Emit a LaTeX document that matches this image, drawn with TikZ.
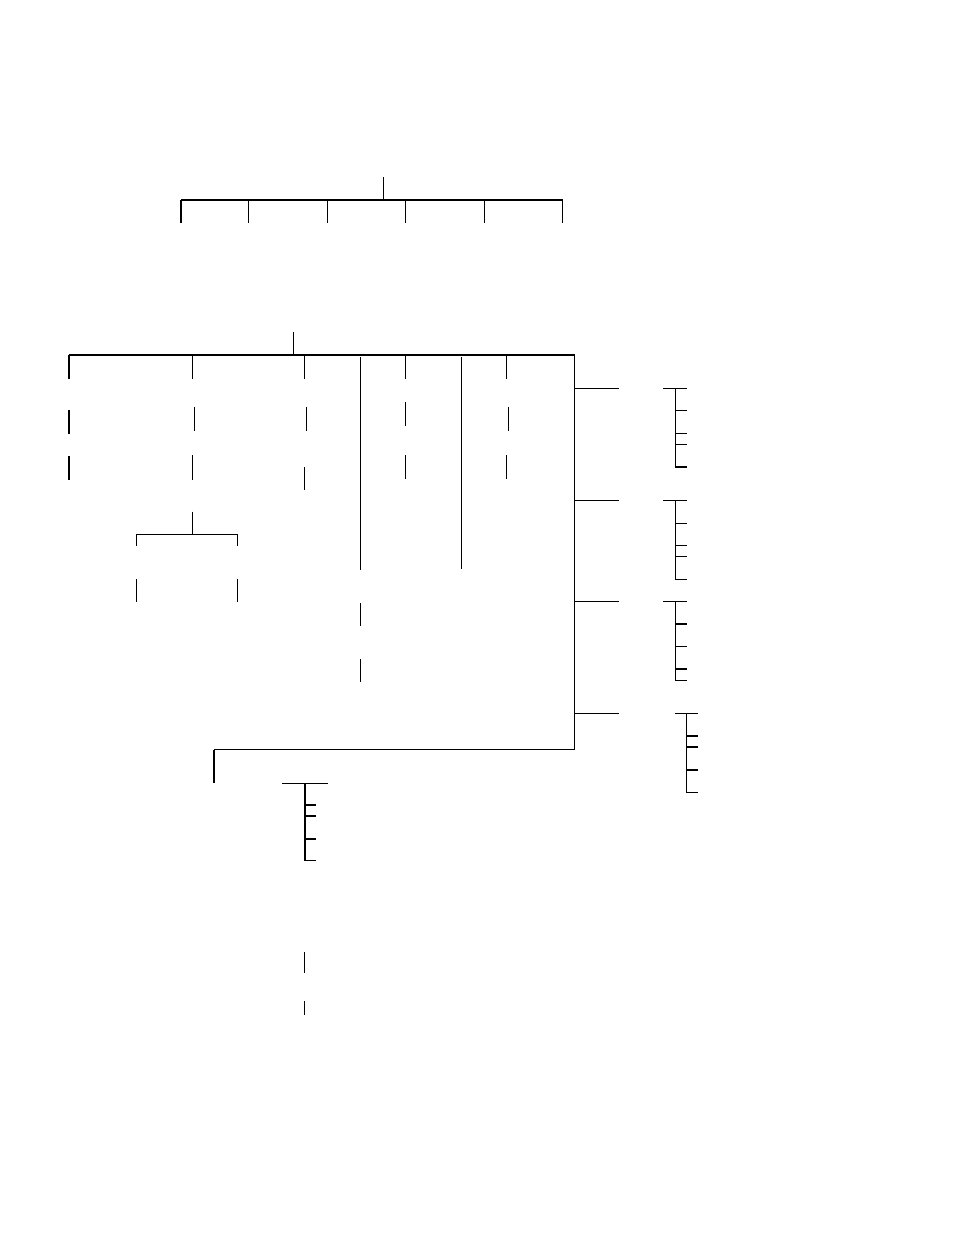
\documentclass[tikz,border=0pt]{standalone}
\begin{document}
\begin{tikzpicture}[x=1pt,y=-1pt,
  ln/.style={line width=1.05pt,line cap=butt},
  thk/.style={line width=2pt,line cap=butt}]
\useasboundingbox (0,0) rectangle (954,1235);
% top tree
\draw[ln] (383.3,177) -- (383.3,200);
\draw[ln] (181,200) -- (562.7,200);
\foreach \x in {181,248.3,327.3,405.3,484.3,562.7}
  \draw[ln] (\x,200) -- (\x,223);
% main tree
\draw[ln] (293.8,332) -- (293.8,355);
\draw[ln] (68.6,355) -- (574.8,355) -- (574.8,749.5) -- (214.3,749.5);
\draw[thk] (214.3,749.5) -- (214.3,783.3);
% column 1 (thick)
\draw[thk] (68.6,355) -- (68.6,379);
\draw[thk] (68.6,410) -- (68.6,434);
\draw[thk] (68.6,456) -- (68.6,480);
% column 2
\draw[ln] (192.4,355) -- (192.4,379);
\draw[ln] (194.3,406.7) -- (194.3,431);
\draw[ln] (192.4,455) -- (192.4,480);
\draw[ln] (192.3,511.7) -- (192.3,534.3);
\draw[ln] (136.3,545.7) -- (136.3,534.3) -- (237.3,534.3) -- (237.3,545.7);
\draw[ln] (136.3,579) -- (136.3,601.7);
\draw[ln] (237.3,579) -- (237.3,601.7);
% column 3
\draw[ln] (304.8,355) -- (304.8,379);
\draw[ln] (306.6,406.7) -- (306.6,431);
\draw[ln] (304.8,467) -- (304.8,490);
% column 4
\draw[ln] (360.3,357) -- (360.3,570);
\draw[ln] (360.3,603.3) -- (360.3,626);
\draw[ln] (360.3,659) -- (360.3,682.3);
% column 5
\draw[ln] (405.9,355) -- (405.9,379);
\draw[ln] (405.9,401.6) -- (405.9,425.7);
\draw[ln] (405.9,455) -- (405.9,479);
% column 6
\draw[ln] (461.7,357) -- (461.7,569);
% column 7
\draw[ln] (506.9,355) -- (506.9,379);
\draw[ln] (508.6,406.7) -- (508.6,431);
\draw[ln] (506.9,455) -- (506.9,479);
% right branches
\draw[ln] (574.8,388.3) -- (619.3,388.3);
\draw[ln] (663.3,388.3) -- (686.7,388.3);
\draw[ln] (675.3,388.3) -- (675.3,467) -- (686.7,467);
\foreach \y in {410.3,433.3,444.3} \draw[ln] (675.3,\y) -- (686.7,\y);
\draw[thk] (675.3,467) -- (686.7,467);
\draw[ln] (574.8,500.3) -- (619.3,500.3);
\draw[ln] (663.3,500.3) -- (686.7,500.3);
\draw[ln] (675.3,500.3) -- (675.3,579.3) -- (686.7,579.3);
\foreach \y in {523.3,545.3,556.3} \draw[ln] (675.3,\y) -- (686.7,\y);
\draw[ln] (574.8,601.3) -- (619.3,601.3);
\draw[ln] (663.3,601.3) -- (686.7,601.3);
\draw[ln] (675.3,601.3) -- (675.3,680.3) -- (686.7,680.3);
\foreach \y in {624,646.3} \draw[ln] (675.3,\y) -- (686.7,\y);
\draw[thk] (675.3,669) -- (686.7,669);
\draw[ln] (574.8,713.3) -- (619.3,713.3);
\draw[ln] (675,713.3) -- (697.7,713.3);
\draw[ln] (686.7,713.3) -- (686.7,792.3) -- (697.7,792.3);
\foreach \y in {736,747} \draw[ln] (686.7,\y) -- (697.7,\y);
\draw[thk] (686.7,770) -- (697.7,770);
% bottom group
\draw[ln] (282,783.3) -- (327.7,783.3);
\draw[ln] (305,783.3) -- (305,860.7) -- (316.3,860.7);
\foreach \y in {805,816,839} \draw[ln] (305,\y) -- (316.3,\y);
\draw[ln] (304.3,952) -- (304.3,972.7);
\draw[ln] (304.3,1001) -- (304.3,1015);
\end{tikzpicture}
\end{document}
